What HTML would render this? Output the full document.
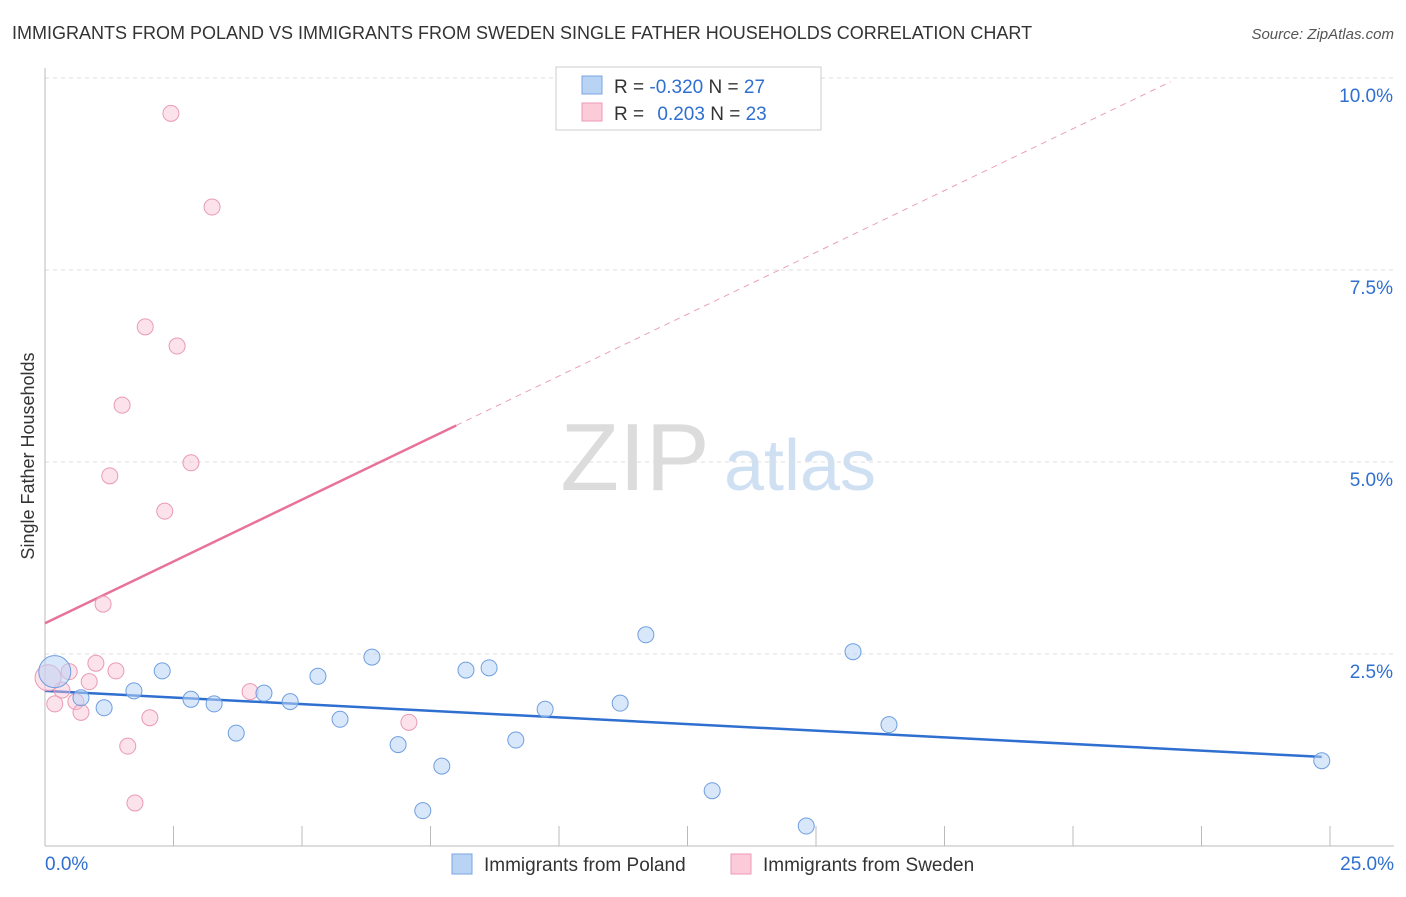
<!DOCTYPE html>
<html><head><meta charset="utf-8"><style>
body{margin:0;background:#fff;font-family:"Liberation Sans",sans-serif;}
svg text{font-family:"Liberation Sans",sans-serif;}
</style></head><body>
<svg id="chart" width="1406" height="892">
<text x="12" y="39" font-size="18" fill="#333">IMMIGRANTS FROM POLAND VS IMMIGRANTS FROM SWEDEN SINGLE FATHER HOUSEHOLDS CORRELATION CHART</text>
<text x="1394" y="39" font-size="15" fill="#555" font-style="italic" text-anchor="end">Source: ZipAtlas.com</text>
<g>
<text x="635" y="490" font-size="96" fill="#dcdcdc" font-family="Liberation Serif" text-anchor="middle">ZIP</text>
<text x="800" y="490" font-size="72" fill="#cfe0f3" text-anchor="middle">atlas</text>
</g>
<g id="grid"></g><g id="axes"></g><g id="lines"></g><g id="pts"></g>
<text transform="translate(34,456) rotate(-90)" font-size="18" fill="#333" text-anchor="middle">Single Father Households</text>
<g>
<rect x="556" y="67" width="265" height="63" fill="#fff" stroke="#ccc"/>
<rect x="582" y="76" width="20" height="18" fill="#b9d3f5" stroke="#7aa5df"/>
<rect x="582" y="103" width="20" height="18" fill="#fbcbd9" stroke="#ec9ab4"/>
<text x="614" y="93" font-size="19" fill="#333">R = <tspan fill="#2f6fd0">-0.320</tspan>   N = <tspan fill="#2f6fd0">27</tspan></text>
<text x="614" y="120" font-size="19" fill="#333">R =  <tspan fill="#2f6fd0" dx="8">0.203</tspan>   N = <tspan fill="#2f6fd0">23</tspan></text>
</g>
<g>
<rect x="452" y="854" width="20" height="20" fill="#b9d3f5" stroke="#7aa5df"/>
<text x="484" y="871" font-size="19" fill="#333">Immigrants from Poland</text>
<rect x="731" y="854" width="20" height="20" fill="#fbcbd9" stroke="#ec9ab4"/>
<text x="763" y="871" font-size="19" fill="#333">Immigrants from Sweden</text>
</g>
</svg>
<script>
const polandX=[0.19,0.70,1.15,1.73,2.28,2.84,3.29,3.72,4.26,4.77,5.31,5.74,6.36,6.87,7.35,7.72,8.19,8.64,9.16,9.73,11.19,11.69,12.98,14.81,15.72,16.42,24.84];
const polandY=[2.27,1.93,1.80,2.02,2.28,1.91,1.85,1.47,1.99,1.88,2.21,1.65,2.46,1.32,0.46,1.04,2.29,2.32,1.38,1.78,1.86,2.75,0.72,0.26,2.53,1.58,1.11];
const swedenX=[2.45,3.25,1.95,2.57,1.50,1.26,2.84,2.33,1.13,0.99,1.38,0.47,0.86,0.33,0.19,0.60,0.70,2.04,1.61,1.75,3.99,7.08,0.06];
const swedenY=[9.54,8.32,6.76,6.51,5.74,4.82,4.99,4.36,3.15,2.38,2.28,2.27,2.14,2.03,1.85,1.88,1.74,1.67,1.30,0.56,2.01,1.61,2.19];
const yTicks=[2.5,5.0,7.5,10.0];
const xTickVals=[0,2.5,5,7.5,10,12.5,15,17.5,20,22.5,25];
const polandTrend=[2.02,-0.0346]; // intercept, slope
const swedenTrend=[2.90,0.322];
const NS="http://www.w3.org/2000/svg";
const X=v=>45+v/25*1285, Y=v=>846-v/2.5*192;
function mk(tag,attrs,parent){const e=document.createElementNS(NS,tag);for(const k in attrs)e.setAttribute(k,attrs[k]);document.getElementById(parent).appendChild(e);return e;}
yTicks.forEach(t=>{
 const l=mk('line',{x1:45,x2:1394,y1:Y(t),y2:Y(t),stroke:'#ddd','stroke-dasharray':'4,4'},'grid');
 
 
 const tx=mk('text',{x:1393,y:Y(t)+24,'font-size':19,fill:'#2f6fd0','text-anchor':'end'},'axes');
 tx.textContent=t.toFixed(1)+'%';
 
 
});
const ax=mk('line',{x1:45,x2:1394,y1:846,y2:846,stroke:'#bbb'},'axes');


const ay=mk('line',{x1:45,x2:45,y1:68,y2:846,stroke:'#bbb'},'axes');


xTickVals.forEach(t=>{
 const l=mk('line',{x1:X(t),x2:X(t),y1:826,y2:846,stroke:'#bbb'},'axes');
 
 
});
[[0,'0.0%','start',45],[25,'25.0%','end',1394]].forEach(a=>{
 const tx=mk('text',{x:a[3],y:870,'font-size':19,fill:'#2f6fd0','text-anchor':a[2]},'axes');
 tx.textContent=a[1];
 
 
});
// trend lines
const pl=mk('line',{x1:X(0),y1:Y(polandTrend[0]),x2:X(24.84),y2:Y(polandTrend[0]+polandTrend[1]*24.84),stroke:'#2f6fd0','stroke-width':2.5},'lines');


const sl=mk('line',{x1:X(0),y1:Y(swedenTrend[0]),x2:X(8.0),y2:Y(swedenTrend[0]+swedenTrend[1]*8.0),stroke:'#e8729a','stroke-width':2.5},'lines');


const sd=mk('line',{x1:X(8.0),y1:Y(swedenTrend[0]+swedenTrend[1]*8.0),x2:X(21.9),y2:Y(swedenTrend[0]+swedenTrend[1]*21.9),stroke:'#eaa0ba','stroke-width':1,'stroke-dasharray':'6,5'},'lines');


swedenX.forEach((x,i)=>{
 const c=mk('circle',{cx:X(x),cy:Y(swedenY[i]),r:i==swedenX.length-1?13:8,fill:'rgba(248,190,210,0.45)',stroke:'#e99ab5','stroke-width':1},'pts');
 
 
});
polandX.forEach((x,i)=>{
 const c=mk('circle',{cx:X(x),cy:Y(polandY[i]),r:i==0?16:8,fill:'rgba(185,211,245,0.55)',stroke:'#6f9fe0','stroke-width':1},'pts');
 
 
});
</script>
</body></html>
